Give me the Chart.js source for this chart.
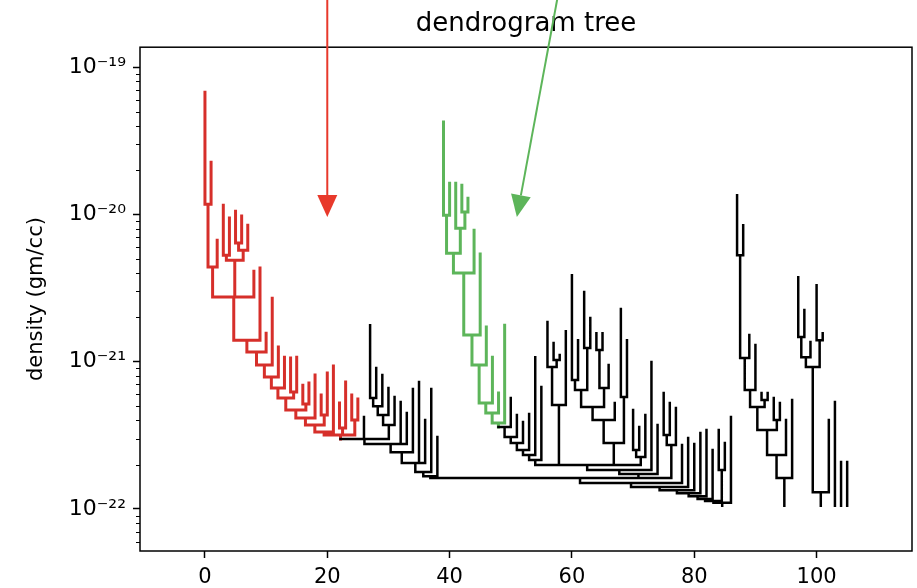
<!DOCTYPE html>
<html lang="en">
<head>
<meta charset="utf-8">
<title>dendrogram tree</title>
<style>
body { margin: 0; background: #fff; }
#wrap { width: 917px; height: 588px; }
</style>
</head>
<body>
<div id="wrap"><canvas id="chart" width="917" height="588"></canvas></div>

<script src="https://cdn.jsdelivr.net/npm/chart.js"></script>
<script>
// peak density of each leaf, in plotting order (leaf i sits at x = i)
const leafPeak = [
  6.77e-20, 2.26e-20, 6.69e-21, 1.156e-20, 9.44e-21, 1.05e-20, 9.74e-21, 8.46e-21, 4.12e-21, 4.32e-21,
  1.56e-21, 2.70e-21, 1.256e-21, 1.07e-21, 1.058e-21, 1.07e-21, 6.93e-22, 7.16e-22, 8.11e-22, 5.93e-22,
  8.37e-22, 9.33e-22, 5.24e-22, 7.27e-22, 5.93e-22, 5.57e-22, 4.21e-22, 1.77e-21, 9.05e-22, 8.11e-22,
  6.62e-22, 5.75e-22, 5.32e-22, 4.48e-22, 6.52e-22, 7.27e-22, 4.01e-22, 6.52e-22, 3.08e-22, 4.24e-20,
  1.63e-20, 1.63e-20, 1.58e-20, 1.29e-20, 7.82e-21, 5.38e-21, 1.72e-21, 1.07e-21, 6.12e-22, 1.77e-21,
  5.66e-22, 4.34e-22, 3.89e-22, 4.41e-22, 1.07e-21, 6.72e-22, 1.86e-21, 1.34e-21, 1.11e-21, 1.61e-21,
  3.87e-21, 1.40e-21, 2.97e-21, 1.98e-21, 1.56e-21, 1.56e-21, 9.48e-22, 5.24e-22, 2.28e-21, 1.40e-21,
  4.69e-22, 3.60e-22, 4.34e-22, 9.94e-22, 3.71e-22, 6.12e-22, 5.24e-22, 4.84e-22, 2.72e-22, 3.03e-22,
  2.76e-22, 3.28e-22, 3.43e-22, 2.51e-22, 3.43e-22, 2.80e-22, 4.21e-22, 1.35e-20, 8.46e-21, 1.52e-21,
  1.30e-21, 6.12e-22, 6.12e-22, 5.66e-22, 5.24e-22, 4.01e-22, 5.49e-22, 3.75e-21, 2.24e-21, 1.36e-21,
  3.31e-21, 1.56e-21, 4.01e-22, 5.32e-22, 2.08e-22, 2.08e-22
];

// merges: [name, merge density, children...]  (number = leaf, string = earlier merge)
const merges = [
  ['a', 1.175e-20, 0, 1], ['b', 4.39e-21, 'a', 2],
  ['c1', 5.29e-21, 3, 4], ['c2', 6.39e-21, 5, 6], ['c3', 5.72e-21, 'c2', 7], ['c', 4.89e-21, 'c1', 'c3'],
  ['d', 2.75e-21, 'b', 'c', 8], ['e', 1.40e-21, 'd', 9],
  ['f1', 1.162e-21, 'e', 10], ['f2', 9.48e-22, 'f1', 11], ['f3', 7.86e-22, 'f2', 12], ['f4', 6.62e-22, 'f3', 13],
  ['f5a', 6.22e-22, 14, 15], ['f5', 5.66e-22, 'f4', 'f5a'], ['f6a', 5.15e-22, 16, 17], ['f6', 4.69e-22, 'f5', 'f6a'],
  ['f7', 4.14e-22, 'f6', 18], ['f8a', 4.34e-22, 19, 20], ['f8', 3.71e-22, 'f7', 'f8a'], ['f9', 3.33e-22, 'f8', 21],
  ['r9a', 3.54e-22, 22, 23], ['r9b', 4.01e-22, 24, 25], ['red', 3.18e-22, 'f9', 'r9a', 'r9b'],
  ['g1', 5.66e-22, 27, 28], ['g2', 4.99e-22, 'g1', 29], ['g3', 4.34e-22, 'g2', 30], ['g4', 3.71e-22, 'g3', 31],
  ['h', 2.98e-22, 'red', 26, 'g4'], ['i1', 2.76e-22, 'h', 32, 33], ['i2', 2.43e-22, 'i1', 34],
  ['i3', 2.05e-22, 'i2', 35, 36], ['i4', 1.78e-22, 'i3', 37], ['j', 1.67e-22, 'i4', 38],
  ['k1', 9.89e-21, 39, 40], ['k2', 1.04e-20, 42, 43], ['k3', 8.07e-21, 41, 'k2'], ['k4', 5.46e-21, 'k1', 'k3'],
  ['k5', 4.00e-21, 'k4', 44], ['k6', 1.52e-21, 'k5', 45], ['k7', 9.48e-22, 'k6', 46], ['k8', 5.24e-22, 'k7', 47],
  ['k9', 4.48e-22, 'k8', 48], ['green', 3.83e-22, 'k9', 49],
  ['m1', 3.60e-22, 'green', 50], ['m2', 3.08e-22, 'm1', 51], ['m3', 2.80e-22, 'm2', 52], ['m4', 2.51e-22, 'm3', 53],
  ['m5', 2.32e-22, 'm4', 54], ['m6', 2.15e-22, 'm5', 55],
  ['n1', 1.025e-21, 57, 58], ['n2', 9.19e-22, 56, 'n1'], ['n3', 5.08e-22, 'n2', 59],
  ['p1', 7.50e-22, 60, 61], ['p2', 1.24e-21, 62, 63], ['p3', 6.42e-22, 'p1', 'p2'],
  ['q1', 1.20e-21, 64, 65], ['q2', 6.62e-22, 'q1', 66], ['o1', 4.92e-22, 'p3', 'q2'], ['o2', 4.01e-22, 'o1', 67],
  ['s1', 5.75e-22, 68, 69], ['o3', 2.80e-22, 'o2', 's1'], ['t1', 2.51e-22, 70, 71], ['t2', 2.25e-22, 't1', 72],
  ['u1', 1.99e-22, 'm6', 'n3', 'o3', 't2'], ['u2', 1.84e-22, 'u1', 73], ['u3', 1.73e-22, 'u2', 74],
  ['v1', 3.18e-22, 75, 76], ['v2', 2.72e-22, 'v1', 77],
  ['w0', 1.62e-22, 'j', 'u3', 'v2'], ['w1', 1.50e-22, 'w0', 78], ['w2', 1.41e-22, 'w1', 79],
  ['w3', 1.34e-22, 'w2', 80], ['w4', 1.28e-22, 'w3', 81], ['w5', 1.22e-22, 'w4', 82], ['w6', 1.17e-22, 'w5', 83],
  ['x1', 1.84e-22, 84, 85], ['w7', 1.13e-22, 'w6', 'x1'], ['main', 1.10e-22, 'w7', 86],
  ['y1', 5.29e-21, 87, 88], ['y2', 1.058e-21, 'y1', 89], ['y3', 6.42e-22, 'y2', 90], ['z1', 5.49e-22, 91, 92],
  ['y4', 4.92e-22, 'y3', 'z1'], ['z2', 4.01e-22, 93, 94], ['y5', 3.43e-22, 'y4', 'z2'], ['y6', 2.32e-22, 'y5', 95],
  ['east', 1.62e-22, 'y6', 96],
  ['e1', 1.47e-21, 97, 98], ['e2', 1.07e-21, 'e1', 99], ['e3', 1.40e-21, 100, 101], ['e4', 9.19e-22, 'e2', 'e3'],
  ['far', 1.30e-22, 'e4', 102]
];

const trunks = ['main', 'east', 'far', 103, 104, 105];
const baseLevel = 1.05e-22;

// annotation arrows: [tail x, tail density, tip x, tip density]
const arrowTail = [[20, 1e-18], [60, 1e-18]];
const arrowTip = [[20, 9.6e-21], [51, 9.6e-21]];

const xTicks = [0, 20, 40, 60, 80, 100];
const yTickExps = [-22, -21, -20, -19];

const colours = { black: '#000000', red: '#d62f2a', green: '#5db55a' };
const arrowColours = ['#e8392b', '#5db55a'];

const nodes = {};
merges.forEach(m => { nodes[m[0]] = { level: m[1], kids: m.slice(2) }; });

function place(id) {
	if (typeof id === 'number') return id;
	let p = nodes[id].kids.map(place);
	return p.reduce((s, v) => s + v, 0) / p.length;
}

const segs = { black: [], green: [], red: [] };
const gap = { x: null, y: null };

function walk(id, floor, colour) {
	if (id === 'red' || id === 'green') colour = id;
	let x = place(id);
	let top = typeof id === 'number' ? leafPeak[id] : nodes[id].level;
	segs[colour].push({ x: x, y: top }, { x: x, y: floor }, gap);
	if (typeof id !== 'number') {
		let xs = nodes[id].kids.map(place);
		segs[colour].push({ x: Math.min(...xs), y: top }, { x: Math.max(...xs), y: top }, gap);
		nodes[id].kids.forEach(k => walk(k, top, colour));
	}
}
trunks.forEach(t => walk(t, baseLevel, 'black'));

const supMap = { '-': '\u207b', '0': '\u2070', '1': '\u00b9', '2': '\u00b2', '3': '\u00b3', '4': '\u2074',
	'5': '\u2075', '6': '\u2076', '7': '\u2077', '8': '\u2078', '9': '\u2079' };
function powLabel(e) {
	return '10' + String(e).split('').map(c => supMap[c]).join('');
}

const yTickList = [];
for (let e = -23; e <= -19; e++) {
	for (let k = 1; k <= 9; k++) {
		let v = k * Math.pow(10, e);
		if (v >= 5.18e-23 && v <= 1.367e-19) yTickList.push({ value: v, major: yTickExps.includes(e) && k === 1, exp: e });
	}
}

const font = { family: 'DejaVu Sans', size: 21 };

const axesBox = {
	id: 'axesBox',
	afterDatasetsDraw(chart) {
		const { ctx, chartArea: a, scales } = chart;
		ctx.save();
		ctx.strokeStyle = '#000';
		ctx.lineWidth = 1.5;
		ctx.strokeRect(a.left, a.top, a.right - a.left, a.bottom - a.top);
		ctx.lineWidth = 1.2;
		ctx.beginPath();
		scales.y.ticks.forEach(t => {
			if (t.major) return;
			let py = Math.round(scales.y.getPixelForValue(t.value)) + 0.5;
			ctx.moveTo(a.left - 4, py);
			ctx.lineTo(a.left, py);
		});
		ctx.stroke();

		arrowTail.forEach((tail, i) => {
			let x0 = scales.x.getPixelForValue(tail[0]), y0 = scales.y.getPixelForValue(tail[1]);
			let x1 = scales.x.getPixelForValue(arrowTip[i][0]), y1 = scales.y.getPixelForValue(arrowTip[i][1]);
			let len = Math.hypot(x1 - x0, y1 - y0);
			let ux = (x1 - x0) / len, uy = (y1 - y0) / len;
			let bx = x1 - ux * 22, by = y1 - uy * 22;
			ctx.strokeStyle = arrowColours[i];
			ctx.fillStyle = arrowColours[i];
			ctx.lineWidth = 2;
			ctx.beginPath();
			ctx.moveTo(x0, y0);
			ctx.lineTo(bx, by);
			ctx.stroke();
			ctx.beginPath();
			ctx.moveTo(x1, y1);
			ctx.lineTo(bx - uy * 10, by + ux * 10);
			ctx.lineTo(bx + uy * 10, by - ux * 10);
			ctx.closePath();
			ctx.fill();
		});
		ctx.restore();
	}
};

function lineSet(name, width) {
	return {
		label: name,
		data: segs[name],
		showLine: true,
		borderColor: colours[name],
		borderWidth: width,
		borderCapStyle: 'square',
		pointRadius: 0,
		pointHoverRadius: 0
	};
}

new Chart(document.getElementById('chart'), {
	type: 'scatter',
	data: {
		datasets: [lineSet('black', 2.5), lineSet('green', 3), lineSet('red', 3)]
	},
	options: {
		responsive: false,
		animation: false,
		layout: { padding: { left: 0, right: 5, top: 0, bottom: 0 } },
		plugins: {
			legend: { display: false },
			tooltip: { enabled: false },
			title: {
				display: true,
				fullSize: false,
				text: 'dendrogram tree',
				color: '#000',
				font: { family: 'DejaVu Sans', size: 26, weight: 'normal' },
				padding: { top: 9, bottom: 7 }
			}
		},
		scales: {
			x: {
				type: 'linear',
				min: -10.62,
				max: 115.6,
				afterBuildTicks: s => { s.ticks = xTicks.map(v => ({ value: v })); },
				afterFit: s => { s.height = 37; },
				grid: { drawOnChartArea: false, tickLength: 7, tickColor: '#000', tickWidth: 1.5 },
				border: { display: false },
				ticks: { color: '#000', font: font, padding: 7, maxRotation: 0, autoSkip: false }
			},
			y: {
				type: 'logarithmic',
				min: 5.18e-23,
				max: 1.367e-19,
				afterBuildTicks: s => { s.ticks = yTickList.map(t => ({ value: t.value, major: t.major, exp: t.exp })); },
				afterFit: s => { s.width = 140; },
				grid: {
					drawOnChartArea: false,
					tickLength: 7,
					tickWidth: 1.5,
					tickColor: c => (c.tick && c.tick.major ? '#000' : 'rgba(0,0,0,0)')
				},
				border: { display: false },
				ticks: {
					color: '#000',
					font: { family: 'DejaVu Sans', size: 22 },
					padding: 7,
					autoSkip: false,
					callback: (v, i, ticks) => (ticks[i].major ? powLabel(ticks[i].exp) : '')
				},
				title: {
					display: true,
					text: 'density (gm/cc)',
					color: '#000',
					font: font,
					padding: { top: 24, bottom: 0 }
				}
			}
		}
	},
	plugins: [axesBox]
});
</script>
</body>
</html>
